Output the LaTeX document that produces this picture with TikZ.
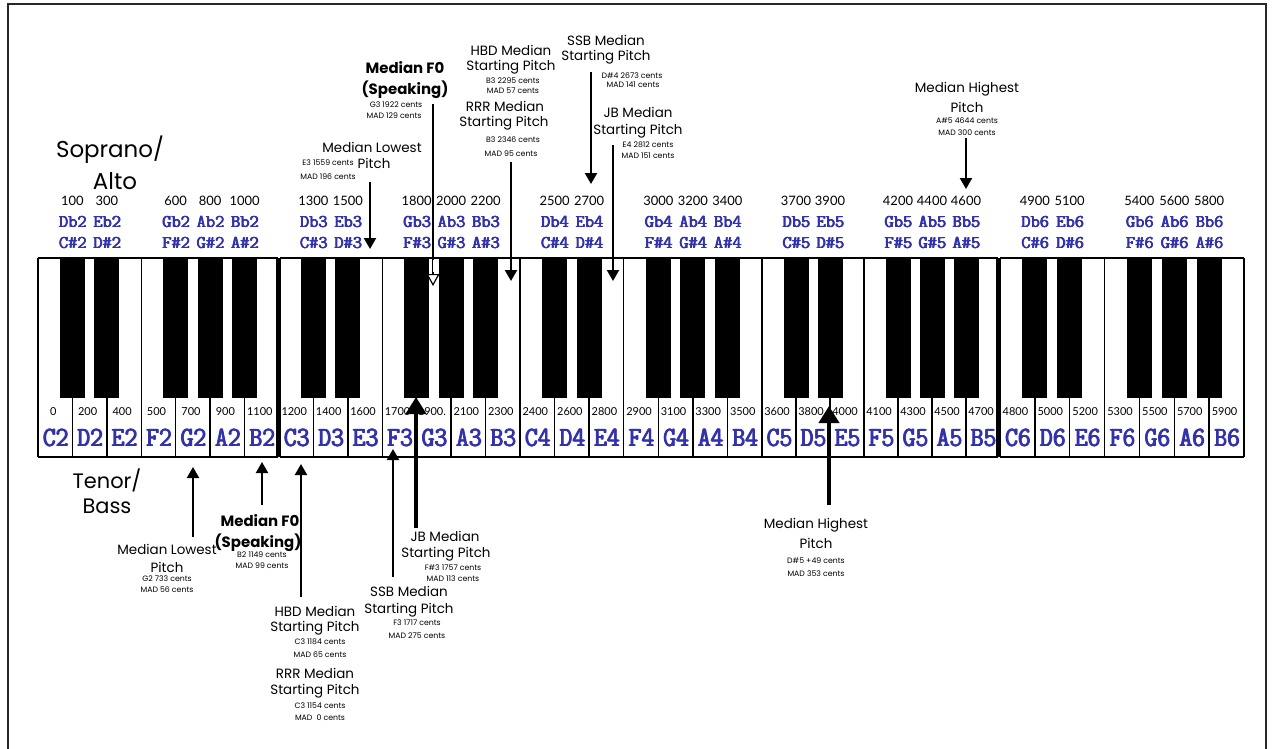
\documentclass[tikz,border=0pt]{standalone}
\usepackage{fontspec}
\usepackage{graphicx}
\usetikzlibrary{arrows.meta}
\newfontfamily\labf{Poppins}
\newfontfamily\numf{Lato}
\definecolor{noteblue}{RGB}{50,50,170}
\definecolor{framegray}{RGB}{40,40,40}
% overprinted (heavier) text
\newcommand\thkA[1]{\rlap{\hspace{0.6pt}#1}\rlap{\hspace{1.2pt}#1}\rlap{\raisebox{0.5pt}{\hspace{0.6pt}#1}}#1}
\newcommand\thkB[1]{\rlap{\hspace{0.45pt}#1}\rlap{\hspace{0.9pt}#1}\rlap{\raisebox{0.4pt}{\hspace{0.45pt}#1}}#1}
\begin{document}
\begin{tikzpicture}[x=1bp,y=-1bp,
  lbl/.style={inner sep=0pt, font=\labf\fontsize{13.5}{14}\selectfont},
  blbl/.style={inner sep=0pt, font=\labf\bfseries\fontsize{15}{16}\selectfont},
  sml/.style={inner sep=0pt, font=\labf\fontsize{7.8}{8}\selectfont},
  big/.style={inner sep=0pt, font=\labf\fontsize{23}{24}\selectfont},
  bigb/.style={inner sep=0pt, font=\labf\fontsize{21}{22}\selectfont},
  numtop/.style={inner sep=0pt, font=\numf\fontsize{13}{14}\selectfont},
  numbot/.style={inner sep=0pt, font=\numf\fontsize{11}{12}\selectfont},
  bkn/.style={inner sep=0pt, text=noteblue, font=\ttfamily\fontsize{18}{18}\selectfont},
  wkn/.style={inner sep=0pt, text=noteblue, font=\ttfamily\fontsize{25}{25}\selectfont},
  keyline/.style={line width=1.5bp},
  edge/.style={line width=2.2bp},
  arr/.style={line width=2.2bp, -{Triangle[length=11bp,width=12bp]}},
  tarr/.style={line width=4bp, -{Triangle[length=17bp,width=20bp]}},
]
\useasboundingbox (0,0) rectangle (1275,749);
\fill[white] (0,0) rectangle (1275,749);
% frame (open at the bottom)
\draw[framegray, line width=1.5bp] (8,749) -- (8,4) -- (1266,4) -- (1266,749);

% ---------------- keyboard ----------------
\foreach \s/\e/\o in {38/279/2, 279/520/3, 520/762/4, 762/1000/5, 1000/1244/6} {
  \pgfmathsetmacro\w{(\e-\s)/7}
  \foreach \nm/\k/\c in {C/0/0,D/1/200,E/2/400,F/3/500,G/4/700,A/5/900,B/6/1100} {
    \pgfmathsetmacro\xc{\s+(\k+0.5)*\w}
    \pgfmathtruncatemacro\cc{\c+1200*(\o-2)}
    \ifnum\k>0 \draw[keyline] (\s+\k*\w,258) -- (\s+\k*\w,457); \fi
    \node[wkn] (w\nm\o) at (\xc,438) {\scalebox{1}[1.12]{\thkA{\nm\o}}};
    \node[numbot] (v\nm\o) at (\xc-2,412) {\cc\ifnum\cc=1900 .\fi};
  }
  \foreach \sh/\fl/\k/\c in {C/D/1/100, D/E/2/300, F/G/4/600, G/A/5/800, A/B/6/1000} {
    \pgfmathsetmacro\xb{\s+\k*\w}
    \pgfmathtruncatemacro\cc{\c+1200*(\o-2)}
    \fill (\xb-12.5,258) rectangle (\xb+12.5,398);
    \node[bkn] (f\sh\o) at (\xb,222) {\thkB{\fl b\o}};
    \node[bkn] (s\sh\o) at (\xb,243) {\thkB{\sh\#\o}};
    \node[numtop] (t\sh\o) at (\xb,201) {\cc};
  }
}
% octave joins and block outlines
\draw[keyline] (520,258) -- (520,457);
\draw[keyline] (762,258) -- (762,457);
\foreach \a/\b in {38/277.5, 280/997.5, 1000/1244} {
  \draw[edge] (\a,258) -- (\b,258);
  \draw[line width=2.8bp] (\a,457) -- (\b,457);
  \draw[edge] (\a,258) -- (\a,457);
  \draw[edge] (\b,258) -- (\b,457);
}

% ---------------- voice labels ----------------
\node[big] (sop) at (110,150) {Soprano/};
\node[big] (alto) at (115,181) {Alto};
\node[bigb] (ten) at (107,480) {Tenor/};
\node[bigb] (bass) at (107,506) {Bass};

% ---------------- top annotations ----------------
% Median F0 (Speaking)
\node[blbl] (tf0a) at (405,68) {Median F0};
\node[blbl] (tf0b) at (405,90) {(Speaking)};
\node[sml] (tf0c) at (396,105) {G3 1922 cents};
\node[sml] (tf0d) at (394,116) {MAD 129 cents};
\coordinate (tf0s) at (433,104);
\coordinate (tf0e) at (433,286);
\draw[line width=2.6bp, -{Triangle[length=12bp,width=13bp,fill=white,line width=1.2bp]}] (tf0s) -- (tf0e);
\draw[white, line width=1bp] (433,260) -- (433,272);

% Median Lowest Pitch (top)
\node[lbl] (tla) at (372,147) {Median Lowest};
\node[lbl] (tlb) at (374,163) {Pitch};
\node[sml] (tlc) at (328,163) {E3 1559 cents};
\node[sml] (tld) at (328,177) {MAD 196 cents};
\coordinate (tls) at (370,182);
\coordinate (tle) at (370,249);
\draw[arr] (tls) -- (tle);

% HBD / RRR (top)
\node[lbl] (thba) at (511,50) {HBD Median};
\node[lbl] (thbb) at (511,67) {Starting Pitch};
\node[sml] (thbc) at (513,81) {B3 2295 cents};
\node[sml] (thbd) at (513,91) {MAD 57 cents};
\node[lbl] (trra) at (505,106) {RRR Median};
\node[lbl] (trrb) at (504,123) {Starting Pitch};
\node[sml] (trrc) at (513,140) {B3 2346 cents};
\node[sml] (trrd) at (511,154) {MAD 95 cents};
\coordinate (trs) at (511,162);
\coordinate (tre) at (511,281);
\draw[arr] (trs) -- (tre);

% SSB (top)
\node[lbl] (tssa) at (606,40) {SSB Median};
\node[lbl] (tssb) at (606,57) {Starting Pitch};
\node[sml] (tssc) at (632,76) {D\#4 2673 cents};
\node[sml] (tssd) at (633,85) {MAD 141 cents};
\coordinate (tsss) at (591,72);
\coordinate (tsse) at (591,184);
\draw[arr] (tsss) -- (tsse);

% JB (top)
\node[lbl] (tjba) at (638,112) {JB Median};
\node[lbl] (tjbb) at (638,131) {Starting Pitch};
\node[sml] (tjbc) at (648,145) {E4 2812 cents};
\node[sml] (tjbd) at (648,156) {MAD 151 cents};
\coordinate (tjbs) at (613,145);
\coordinate (tjbe) at (613,281);
\draw[arr] (tjbs) -- (tjbe);

% Median Highest (top)
\node[lbl] (thia) at (967,89) {Median Highest};
\node[lbl] (thib) at (967,107) {Pitch};
\node[sml] (thic) at (967,121) {A\#5 4644 cents};
\node[sml] (thid) at (967,133) {MAD 300 cents};
\coordinate (this) at (966,138);
\coordinate (thie) at (966,189);
\draw[arr] (this) -- (thie);

% ---------------- bottom annotations ----------------
% Median Lowest (bottom)
\node[lbl] (bla) at (167,549) {Median Lowest};
\node[lbl] (blb) at (167,567) {Pitch};
\node[sml] (blc) at (167,579) {G2 733 cents};
\node[sml] (bld) at (167,590) {MAD 56 cents};
\coordinate (bls) at (193,537);
\coordinate (ble) at (193,467);
\draw[arr] (bls) -- (ble);

% Median F0 (bottom)
\node[blbl] (bf0a) at (260,521) {Median F0};
\node[blbl] (bf0b) at (258,543) {(Speaking)};
\node[sml] (bf0c) at (262,555) {B2 1149 cents};
\node[sml] (bf0d) at (262,566) {MAD 99 cents};
\coordinate (bf0s) at (262,505);
\coordinate (bf0e) at (262,462);
\draw[arr] (bf0s) -- (bf0e);

% HBD / RRR (bottom)
\node[lbl] (bhba) at (315,611) {HBD Median};
\node[lbl] (bhbb) at (315,628) {Starting Pitch};
\node[sml] (bhbc) at (320,642) {C3 1184 cents};
\node[sml] (bhbd) at (320,655) {MAD 65 cents};
\node[lbl] (brra) at (315,673) {RRR Median};
\node[lbl] (brrb) at (315,691) {Starting Pitch};
\node[sml] (brrc) at (320,706) {C3 1154 cents};
\node[sml] (brrd) at (320,718) {MAD\ \ 0 cents};
\coordinate (bhbs) at (301,597);
\coordinate (bhbe) at (301,464);
\draw[arr] (bhbs) -- (bhbe);

% JB (bottom)
\node[lbl] (bjba) at (445,536) {JB Median};
\node[lbl] (bjbb) at (446,554) {Starting Pitch};
\node[sml] (bjbc) at (453,568) {F\#3 1757 cents};
\node[sml] (bjbd) at (453,579) {MAD 113 cents};
\coordinate (bjbs) at (416,528);
\coordinate (bjbe) at (416,397);
\draw[tarr] (bjbs) -- (bjbe);

% SSB (bottom)
\node[lbl] (bssa) at (409,591) {SSB Median};
\node[lbl] (bssb) at (409,610) {Starting Pitch};
\node[sml] (bssc) at (417,623) {F3 1717 cents};
\node[sml] (bssd) at (417,636) {MAD 275 cents};
\coordinate (bsss) at (393,577);
\coordinate (bsse) at (393,449);
\draw[arr] (bsss) -- (bsse);

% Median Highest (bottom)
\node[lbl] (bhia) at (816,525) {Median Highest};
\node[lbl] (bhib) at (816,543) {Pitch};
\node[sml] (bhic) at (816,561) {D\#5 +49 cents};
\node[sml] (bhid) at (816,574) {MAD 353 cents};
\coordinate (bhis) at (829,505);
\coordinate (bhie) at (829,406);
\draw[tarr] (bhis) -- (bhie);
\end{tikzpicture}
\end{document}
